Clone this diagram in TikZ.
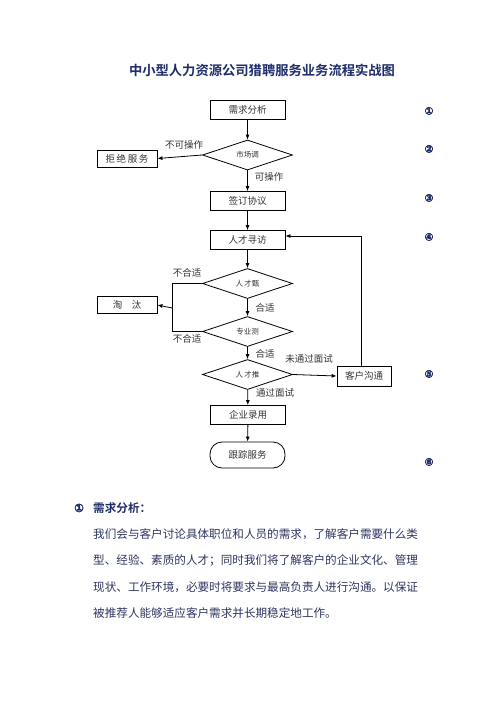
\documentclass[tikz,border=0pt]{standalone}
\usepackage{fontspec}
\setmainfont{Noto Sans CJK SC}
\newfontfamily\cjk{Noto Sans CJK SC}
\newfontfamily\cjkb{Noto Sans CJK SC}[BoldFont={* Bold}]
\newfontfamily\symf{DejaVu Sans Bold}[FakeBold=2.5]
\usetikzlibrary{shapes.geometric,arrows.meta}
\definecolor{navy}{HTML}{1F2D6B}
\definecolor{para}{HTML}{2E3560}
\definecolor{flowtxt}{HTML}{333333}
\begin{document}
\begin{tikzpicture}[x=1pt,y=-1pt,
  box/.style={draw=black,line width=0.8pt,minimum width=75pt,minimum height=19pt,inner sep=0pt,font=\cjk\fontsize{9.5}{10}\selectfont,text=flowtxt},
  sidebox/.style={box,minimum width=60pt,minimum height=17pt},
  dia/.style={draw=black,line width=0.8pt,diamond,aspect=3,minimum width=90pt,minimum height=30pt,inner sep=0pt,font=\cjk\fontsize{7.5}{9}\selectfont,text=flowtxt},
  term/.style={draw=black,line width=0.8pt,rounded corners=12pt,minimum width=75pt,minimum height=26pt,inner sep=0pt,font=\cjk\fontsize{9.5}{10}\selectfont,text=flowtxt},
  lbl/.style={font=\cjk\fontsize{9.5}{10}\selectfont,text=flowtxt,inner sep=0pt},
  num/.style={font=\symf\fontsize{10.5}{11}\selectfont,text=navy,inner sep=0pt},
  arr/.style={line width=0.8pt,-{Latex[length=5pt,width=4pt]}},
  ln/.style={line width=0.8pt},
  ptxt/.style={font=\cjk\fontsize{11.6}{12}\selectfont,text=para,anchor=west,inner sep=0pt}]
\useasboundingbox (0,0) rectangle (496,702);
\fill[white] (0,0) rectangle (496,702);

\node[font=\cjkb\bfseries\fontsize{13.3}{14}\selectfont,text=navy] (title) at (262,70) {中小型人力资源公司猎聘服务业务流程实战图};

\node[box] (xq) at (247.5,109.5) {需求分析};
\node[dia] (sc) at (247.5,155) {市场调};
\node[sidebox] (jj) at (127,158.5) {拒\,绝\,服\,务};
\node[box] (qd) at (247.5,201) {签订协议};
\node[box] (xf) at (247.5,240) {人才寻访};
\node[dia] (zx) at (247.5,283.5) {人\,才甄};
\node[sidebox] (tt) at (127,305) {淘\quad 汰};
\node[dia] (zy) at (247.5,331.5) {专业测};
\node[dia] (tj) at (247.5,374.5) {人\,才推};
\node[box,minimum width=54pt,minimum height=20pt] (kh) at (364,376) {客户沟通};
\node[box] (ly) at (248,415) {企业录用};
\node[term] (gz) at (247.5,455) {跟踪服务};

\draw[arr] (xq) -- (sc);
\draw[arr] (sc.west) -- (jj.east);
\draw[arr] (sc) -- (qd);
\draw[arr] (qd) -- (xf);
\draw[arr] (xf) -- (zx);
\draw[arr] (zx) -- (zy);
\draw[arr] (zy) -- (tj);
\draw[arr] (tj.east) -- (kh.west);
\draw[arr] (tj) -- (ly);
\draw[arr] (ly) -- (gz);

\coordinate (lx) at (172,308);
\draw[ln] (zx.west) -| (lx);
\draw[ln] (zy.west) -| (lx);
\draw[arr] (lx) -- (tt.east);

\coordinate (kt) at (361,236);
\draw[ln] (kh.north -| kt) -- (kt);
\draw[arr] (kt) -- (xf.east |- kt);

\node[lbl] (l1) at (184,145) {不可操作};
\node[lbl] (l2) at (269,177) {可操作};
\node[lbl] (l3) at (187,273) {不合适};
\node[lbl] (l4) at (265,308) {合适};
\node[lbl] (l5) at (187,339) {不合适};
\node[lbl] (l6) at (265,354) {合适};
\node[lbl] (l7) at (309,359) {未通过面试};
\node[lbl] (l8) at (275,393) {通过面试};

\node[num] (n1) at (429,111) {①};
\node[num] (n2) at (429,149) {②};
\node[num] (n3) at (429,198) {③};
\node[num] (n4) at (429,237) {④};
\node[num] (n5) at (429,374) {⑤};
\node[num] (n6) at (429,462) {⑥};

\node[num,anchor=west,font=\symf\fontsize{11.5}{12}\selectfont] (h1) at (74,508) {①};
\node[anchor=west,inner sep=0pt,font=\cjkb\bfseries\fontsize{11.6}{12}\selectfont,text=navy] (h2) at (93,508) {需求分析：};
\node[ptxt] (p1) at (93,534) {我们会与客户讨论具体职位和人员的需求，了解客户需要什么类};
\node[ptxt] (p2) at (93,561) {型、经验、素质的人才；同时我们将了解客户的企业文化、管理};
\node[ptxt] (p3) at (93,587) {现状、工作环境，必要时将要求与最高负责人进行沟通。以保证};
\node[ptxt] (p4) at (93,613) {被推荐人能够适应客户需求并长期稳定地工作。};
\end{tikzpicture}
\end{document}
